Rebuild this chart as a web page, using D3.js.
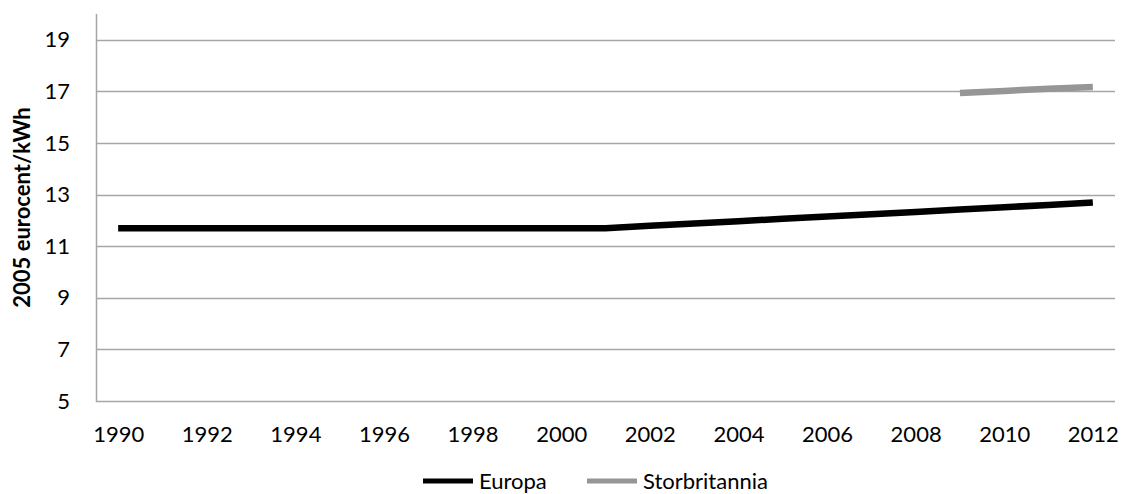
<!DOCTYPE html>
<html>
<head>
<meta charset="utf-8">
<script src="https://cdn.jsdelivr.net/npm/d3@7"></script>
<style>
  body { margin: 0; background: #fff; }
  svg { display: block; font-family: Lato, "Open Sans", sans-serif; }
</style>
</head>
<body>
<div id="chart"></div>
<script>
// years on the category axis
var years = d3.range(1990, 2013);
var tickYears = [1990, 1992, 1994, 1996, 1998, 2000, 2002, 2004, 2006, 2008, 2010, 2012];
var yTicks = [5, 7, 9, 11, 13, 15, 17, 19];

// 2005 eurocent/kWh
var europa = [11.7, 11.7, 11.7, 11.7, 11.7, 11.7, 11.7, 11.7, 11.7, 11.7, 11.7, 11.7,
              11.79, 11.88, 11.97, 12.06, 12.15, 12.24, 12.33, 12.42, 12.51, 12.6, 12.69];
var storbritanniaYears = [2009, 2010, 2011, 2012];
var storbritannia = [16.94, 17.02, 17.1, 17.17];

var width = 1123, height = 494;
var margin = { top: 14, right: 8, bottom: 93, left: 96 };
var fontSize = 22;

var svg = d3.select('#chart')
  .append('svg')
  .attr('width', width)
  .attr('height', height);

var x = d3.scalePoint()
  .domain(years)
  .range([margin.left, width - margin.right])
  .padding(0.5);

var y = d3.scaleLinear()
  .domain([5, 20])
  .range([height - margin.bottom, margin.top]);

// gridlines
svg.append('g')
  .selectAll('line')
  .data(yTicks)
  .enter().append('line')
  .attr('x1', margin.left)
  .attr('x2', width - margin.right)
  .attr('y1', function (d) { return Math.round(y(d)) + 0.5; })
  .attr('y2', function (d) { return Math.round(y(d)) + 0.5; })
  .attr('stroke', '#a6a6a6')
  .attr('stroke-width', 1.5);

// y axis line
svg.append('line')
  .attr('x1', margin.left + 0.5).attr('x2', margin.left + 0.5)
  .attr('y1', margin.top).attr('y2', Math.round(y(5)) + 1)
  .attr('stroke', '#a6a6a6')
  .attr('stroke-width', 1.5);

// y tick labels
var yAxis = d3.axisLeft(y).tickValues(yTicks).tickSize(0).tickPadding(26);
svg.append('g')
  .attr('transform', 'translate(' + margin.left + ',0)')
  .call(yAxis)
  .call(function (g) { g.select('.domain').remove(); })
  .selectAll('text')
  .attr('font-size', fontSize)
  .attr('font-family', 'Lato, sans-serif')
  .attr('fill', '#000');

// x tick labels
var xAxis = d3.axisBottom(x).tickValues(tickYears).tickSize(0).tickPadding(25);
svg.append('g')
  .attr('transform', 'translate(0,' + y(5) + ')')
  .call(xAxis)
  .call(function (g) { g.select('.domain').remove(); })
  .selectAll('text')
  .attr('font-size', fontSize)
  .attr('font-family', 'Lato, sans-serif')
  .attr('fill', '#000');

// y axis title
svg.append('text')
  .attr('transform', 'translate(30,' + ((y(5) + margin.top) / 2) + ') rotate(-90)')
  .attr('text-anchor', 'middle')
  .attr('font-size', fontSize)
  .attr('font-weight', 'bold')
  .text('2005 eurocent/kWh');

var line = d3.line()
  .x(function (d) { return x(d[0]); })
  .y(function (d) { return y(d[1]); });

svg.append('path')
  .datum(years.map(function (yr, i) { return [yr, europa[i]]; }))
  .attr('d', line)
  .attr('fill', 'none')
  .attr('stroke', '#000')
  .attr('stroke-width', 6.5);

svg.append('path')
  .datum(storbritanniaYears.map(function (yr, i) { return [yr, storbritannia[i]]; }))
  .attr('d', line)
  .attr('fill', 'none')
  .attr('stroke', '#969696')
  .attr('stroke-width', 6.5);

// legend
var legend = [
  { name: 'Europa', color: '#000', x: 423 },
  { name: 'Storbritannia', color: '#969696', x: 587 }
];
var lg = svg.append('g').selectAll('g')
  .data(legend)
  .enter().append('g')
  .attr('transform', function (d) { return 'translate(' + d.x + ',481)'; });
lg.append('line')
  .attr('x1', 0).attr('x2', 50)
  .attr('stroke', function (d) { return d.color; })
  .attr('stroke-width', 5);
lg.append('text')
  .attr('x', 56)
  .attr('dy', '0.35em')
  .attr('font-size', fontSize)
  .text(function (d) { return d.name; });
</script>
</body>
</html>
